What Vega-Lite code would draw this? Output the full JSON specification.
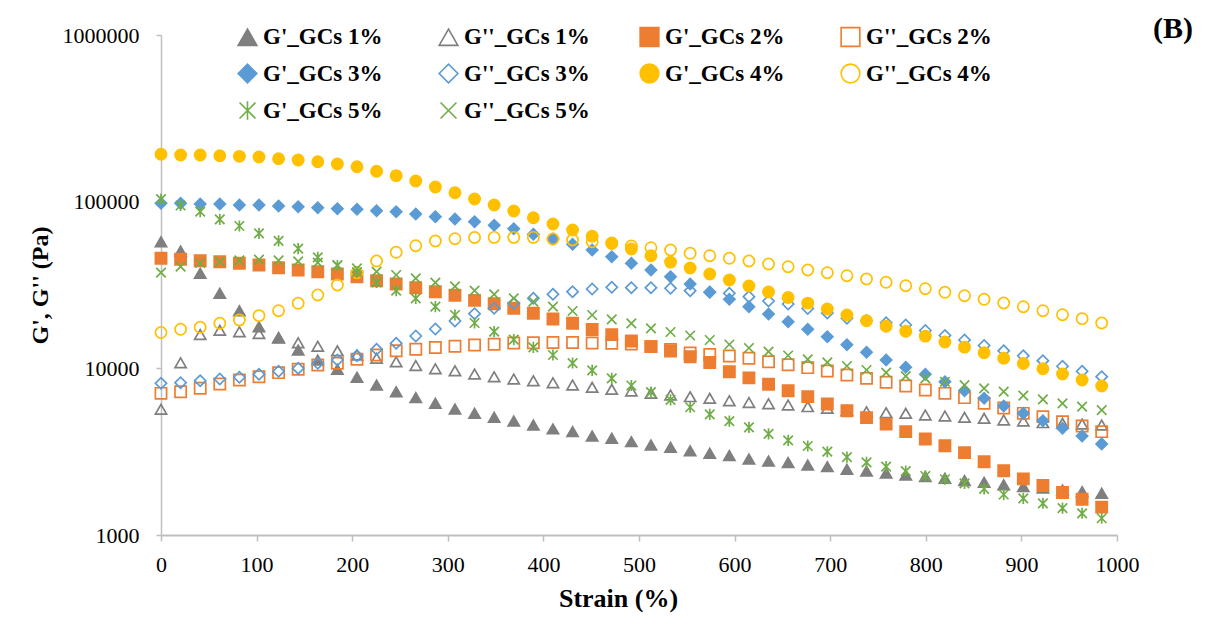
{
"$schema": "https://vega.github.io/schema/vega-lite/v6.json",
"width": 956,
"height": 500,
"autosize": {"type": "none"},
"padding": {"left": 161, "top": 35, "right": 96, "bottom": 104},
"background": "white",
"config": {
  "view": {"stroke": null},
  "font": "Liberation Serif",
  "legend": {"labelFont": "Liberation Serif", "labelFontSize": 23, "labelFontWeight": "bold", "labelColor": "black", "symbolSize": 350, "symbolStrokeWidth": 1.6, "columnPadding": 46, "rowPadding": 10, "gridAlign": "all", "labelLimit": 400, "labelOffset": 4, "padding": 0}
},
"title": {"text": "(B)", "orient": "top", "anchor": "end", "frame": "group", "font": "Liberation Serif", "fontSize": 30, "fontWeight": "bold", "color": "black", "dx": 76, "dy": 20, "offset": 0},
"data": {"values": [
{"s":"G'_GCs 1%","x":0,"y":57520},{"s":"G'_GCs 1%","x":20.5,"y":50580},{"s":"G'_GCs 1%","x":41,"y":37170},{"s":"G'_GCs 1%","x":61.5,"y":28190},{"s":"G'_GCs 1%","x":82,"y":22170},{"s":"G'_GCs 1%","x":102.5,"y":17770},{"s":"G'_GCs 1%","x":123,"y":15310},{"s":"G'_GCs 1%","x":143.5,"y":12880},{"s":"G'_GCs 1%","x":164,"y":11220},{"s":"G'_GCs 1%","x":184.5,"y":9870},{"s":"G'_GCs 1%","x":205,"y":8840},{"s":"G'_GCs 1%","x":225.5,"y":7940},{"s":"G'_GCs 1%","x":246,"y":7240},{"s":"G'_GCs 1%","x":266.5,"y":6670},{"s":"G'_GCs 1%","x":287,"y":6170},{"s":"G'_GCs 1%","x":307.5,"y":5700},{"s":"G'_GCs 1%","x":328,"y":5370},{"s":"G'_GCs 1%","x":348.5,"y":5080},{"s":"G'_GCs 1%","x":369,"y":4830},{"s":"G'_GCs 1%","x":389.5,"y":4570},{"s":"G'_GCs 1%","x":410,"y":4330},{"s":"G'_GCs 1%","x":430.5,"y":4170},{"s":"G'_GCs 1%","x":451,"y":3930},{"s":"G'_GCs 1%","x":471.5,"y":3800},{"s":"G'_GCs 1%","x":492,"y":3630},{"s":"G'_GCs 1%","x":512.5,"y":3470},{"s":"G'_GCs 1%","x":533,"y":3360},{"s":"G'_GCs 1%","x":553.5,"y":3200},{"s":"G'_GCs 1%","x":574,"y":3090},{"s":"G'_GCs 1%","x":594.5,"y":3000},{"s":"G'_GCs 1%","x":615,"y":2860},{"s":"G'_GCs 1%","x":635.5,"y":2780},{"s":"G'_GCs 1%","x":656,"y":2720},{"s":"G'_GCs 1%","x":676.5,"y":2630},{"s":"G'_GCs 1%","x":697,"y":2570},{"s":"G'_GCs 1%","x":717.5,"y":2480},{"s":"G'_GCs 1%","x":738,"y":2420},{"s":"G'_GCs 1%","x":758.5,"y":2350},{"s":"G'_GCs 1%","x":779,"y":2290},{"s":"G'_GCs 1%","x":799.5,"y":2240},{"s":"G'_GCs 1%","x":820,"y":2190},{"s":"G'_GCs 1%","x":840.5,"y":2120},{"s":"G'_GCs 1%","x":861,"y":2070},{"s":"G'_GCs 1%","x":881.5,"y":2000},{"s":"G'_GCs 1%","x":902,"y":1950},{"s":"G'_GCs 1%","x":922.5,"y":1910},{"s":"G'_GCs 1%","x":943,"y":1860},{"s":"G'_GCs 1%","x":963.5,"y":1820},{"s":"G'_GCs 1%","x":984,"y":1780},
{"s":"G''_GCs 1%","x":0,"y":5680},{"s":"G''_GCs 1%","x":20.5,"y":10810},{"s":"G''_GCs 1%","x":41,"y":15960},{"s":"G''_GCs 1%","x":61.5,"y":16910},{"s":"G''_GCs 1%","x":82,"y":16590},{"s":"G''_GCs 1%","x":102.5,"y":16180},{"s":"G''_GCs 1%","x":123,"y":15210},{"s":"G''_GCs 1%","x":143.5,"y":14250},{"s":"G''_GCs 1%","x":164,"y":13560},{"s":"G''_GCs 1%","x":184.5,"y":12740},{"s":"G''_GCs 1%","x":205,"y":12020},{"s":"G''_GCs 1%","x":225.5,"y":11490},{"s":"G''_GCs 1%","x":246,"y":10960},{"s":"G''_GCs 1%","x":266.5,"y":10400},{"s":"G''_GCs 1%","x":287,"y":9950},{"s":"G''_GCs 1%","x":307.5,"y":9680},{"s":"G''_GCs 1%","x":328,"y":9250},{"s":"G''_GCs 1%","x":348.5,"y":8910},{"s":"G''_GCs 1%","x":369,"y":8630},{"s":"G''_GCs 1%","x":389.5,"y":8430},{"s":"G''_GCs 1%","x":410,"y":8200},{"s":"G''_GCs 1%","x":430.5,"y":7940},{"s":"G''_GCs 1%","x":451,"y":7690},{"s":"G''_GCs 1%","x":471.5,"y":7480},{"s":"G''_GCs 1%","x":492,"y":7310},{"s":"G''_GCs 1%","x":512.5,"y":7080},{"s":"G''_GCs 1%","x":533,"y":6920},{"s":"G''_GCs 1%","x":553.5,"y":6760},{"s":"G''_GCs 1%","x":574,"y":6610},{"s":"G''_GCs 1%","x":594.5,"y":6390},{"s":"G''_GCs 1%","x":615,"y":6240},{"s":"G''_GCs 1%","x":635.5,"y":6130},{"s":"G''_GCs 1%","x":656,"y":6030},{"s":"G''_GCs 1%","x":676.5,"y":5890},{"s":"G''_GCs 1%","x":697,"y":5760},{"s":"G''_GCs 1%","x":717.5,"y":5580},{"s":"G''_GCs 1%","x":738,"y":5490},{"s":"G''_GCs 1%","x":758.5,"y":5420},{"s":"G''_GCs 1%","x":779,"y":5370},{"s":"G''_GCs 1%","x":799.5,"y":5250},{"s":"G''_GCs 1%","x":820,"y":5180},{"s":"G''_GCs 1%","x":840.5,"y":5080},{"s":"G''_GCs 1%","x":861,"y":5010},{"s":"G''_GCs 1%","x":881.5,"y":4900},{"s":"G''_GCs 1%","x":902,"y":4830},{"s":"G''_GCs 1%","x":922.5,"y":4720},{"s":"G''_GCs 1%","x":943,"y":4680},{"s":"G''_GCs 1%","x":963.5,"y":4630},{"s":"G''_GCs 1%","x":984,"y":4570},
{"s":"G'_GCs 2%","x":0,"y":45730},{"s":"G'_GCs 2%","x":20.5,"y":45100},{"s":"G'_GCs 2%","x":41,"y":44240},{"s":"G'_GCs 2%","x":61.5,"y":43630},{"s":"G'_GCs 2%","x":82,"y":42680},{"s":"G'_GCs 2%","x":102.5,"y":41690},{"s":"G'_GCs 2%","x":123,"y":40160},{"s":"G'_GCs 2%","x":143.5,"y":38900},{"s":"G'_GCs 2%","x":164,"y":37990},{"s":"G'_GCs 2%","x":184.5,"y":36810},{"s":"G'_GCs 2%","x":205,"y":35470},{"s":"G'_GCs 2%","x":225.5,"y":33560},{"s":"G'_GCs 2%","x":246,"y":32060},{"s":"G'_GCs 2%","x":266.5,"y":30460},{"s":"G'_GCs 2%","x":287,"y":28830},{"s":"G'_GCs 2%","x":307.5,"y":27430},{"s":"G'_GCs 2%","x":328,"y":25590},{"s":"G'_GCs 2%","x":348.5,"y":24390},{"s":"G'_GCs 2%","x":369,"y":22920},{"s":"G'_GCs 2%","x":389.5,"y":21390},{"s":"G'_GCs 2%","x":410,"y":19770},{"s":"G'_GCs 2%","x":430.5,"y":18630},{"s":"G'_GCs 2%","x":451,"y":17100},{"s":"G'_GCs 2%","x":471.5,"y":15920},{"s":"G'_GCs 2%","x":492,"y":14590},{"s":"G'_GCs 2%","x":512.5,"y":13490},{"s":"G'_GCs 2%","x":533,"y":12710},{"s":"G'_GCs 2%","x":553.5,"y":11740},{"s":"G'_GCs 2%","x":574,"y":10840},{"s":"G'_GCs 2%","x":594.5,"y":9540},{"s":"G'_GCs 2%","x":615,"y":8770},{"s":"G'_GCs 2%","x":635.5,"y":8030},{"s":"G'_GCs 2%","x":656,"y":7340},{"s":"G'_GCs 2%","x":676.5,"y":6760},{"s":"G'_GCs 2%","x":697,"y":6110},{"s":"G'_GCs 2%","x":717.5,"y":5570},{"s":"G'_GCs 2%","x":738,"y":5060},{"s":"G'_GCs 2%","x":758.5,"y":4630},{"s":"G'_GCs 2%","x":779,"y":4170},{"s":"G'_GCs 2%","x":799.5,"y":3770},{"s":"G'_GCs 2%","x":820,"y":3430},{"s":"G'_GCs 2%","x":840.5,"y":3120},{"s":"G'_GCs 2%","x":861,"y":2750},{"s":"G'_GCs 2%","x":881.5,"y":2430},{"s":"G'_GCs 2%","x":902,"y":2170},{"s":"G'_GCs 2%","x":922.5,"y":1980},{"s":"G'_GCs 2%","x":943,"y":1800},{"s":"G'_GCs 2%","x":963.5,"y":1640},{"s":"G'_GCs 2%","x":984,"y":1470},
{"s":"G''_GCs 2%","x":0,"y":7080},{"s":"G''_GCs 2%","x":20.5,"y":7240},{"s":"G''_GCs 2%","x":41,"y":7590},{"s":"G''_GCs 2%","x":61.5,"y":8050},{"s":"G''_GCs 2%","x":82,"y":8510},{"s":"G''_GCs 2%","x":102.5,"y":8910},{"s":"G''_GCs 2%","x":123,"y":9420},{"s":"G''_GCs 2%","x":143.5,"y":9870},{"s":"G''_GCs 2%","x":164,"y":10470},{"s":"G''_GCs 2%","x":184.5,"y":10720},{"s":"G''_GCs 2%","x":205,"y":11330},{"s":"G''_GCs 2%","x":225.5,"y":12020},{"s":"G''_GCs 2%","x":246,"y":12760},{"s":"G''_GCs 2%","x":266.5,"y":13010},{"s":"G''_GCs 2%","x":287,"y":13340},{"s":"G''_GCs 2%","x":307.5,"y":13560},{"s":"G''_GCs 2%","x":328,"y":13800},{"s":"G''_GCs 2%","x":348.5,"y":13950},{"s":"G''_GCs 2%","x":369,"y":14190},{"s":"G''_GCs 2%","x":389.5,"y":14250},{"s":"G''_GCs 2%","x":410,"y":14290},{"s":"G''_GCs 2%","x":430.5,"y":14290},{"s":"G''_GCs 2%","x":451,"y":14190},{"s":"G''_GCs 2%","x":471.5,"y":14130},{"s":"G''_GCs 2%","x":492,"y":14000},{"s":"G''_GCs 2%","x":512.5,"y":13490},{"s":"G''_GCs 2%","x":533,"y":12970},{"s":"G''_GCs 2%","x":553.5,"y":12360},{"s":"G''_GCs 2%","x":574,"y":12110},{"s":"G''_GCs 2%","x":594.5,"y":11860},{"s":"G''_GCs 2%","x":615,"y":11490},{"s":"G''_GCs 2%","x":635.5,"y":10960},{"s":"G''_GCs 2%","x":656,"y":10510},{"s":"G''_GCs 2%","x":676.5,"y":10090},{"s":"G''_GCs 2%","x":697,"y":9640},{"s":"G''_GCs 2%","x":717.5,"y":9120},{"s":"G''_GCs 2%","x":738,"y":8710},{"s":"G''_GCs 2%","x":758.5,"y":8250},{"s":"G''_GCs 2%","x":779,"y":7830},{"s":"G''_GCs 2%","x":799.5,"y":7410},{"s":"G''_GCs 2%","x":820,"y":7080},{"s":"G''_GCs 2%","x":840.5,"y":6670},{"s":"G''_GCs 2%","x":861,"y":6170},{"s":"G''_GCs 2%","x":881.5,"y":5780},{"s":"G''_GCs 2%","x":902,"y":5370},{"s":"G''_GCs 2%","x":922.5,"y":5130},{"s":"G''_GCs 2%","x":943,"y":4780},{"s":"G''_GCs 2%","x":963.5,"y":4510},{"s":"G''_GCs 2%","x":984,"y":4170},
{"s":"G'_GCs 3%","x":0,"y":97800},{"s":"G'_GCs 3%","x":20.5,"y":97800},{"s":"G'_GCs 3%","x":41,"y":96800},{"s":"G'_GCs 3%","x":61.5,"y":96800},{"s":"G'_GCs 3%","x":82,"y":95500},{"s":"G'_GCs 3%","x":102.5,"y":95500},{"s":"G'_GCs 3%","x":123,"y":94200},{"s":"G'_GCs 3%","x":143.5,"y":93300},{"s":"G'_GCs 3%","x":164,"y":92000},{"s":"G'_GCs 3%","x":184.5,"y":90750},{"s":"G'_GCs 3%","x":205,"y":90000},{"s":"G'_GCs 3%","x":225.5,"y":88270},{"s":"G'_GCs 3%","x":246,"y":87060},{"s":"G'_GCs 3%","x":266.5,"y":84330},{"s":"G'_GCs 3%","x":287,"y":81240},{"s":"G'_GCs 3%","x":307.5,"y":78700},{"s":"G'_GCs 3%","x":328,"y":75820},{"s":"G'_GCs 3%","x":348.5,"y":72140},{"s":"G'_GCs 3%","x":369,"y":68830},{"s":"G'_GCs 3%","x":389.5,"y":63720},{"s":"G'_GCs 3%","x":410,"y":59700},{"s":"G'_GCs 3%","x":430.5,"y":55500},{"s":"G'_GCs 3%","x":451,"y":51300},{"s":"G'_GCs 3%","x":471.5,"y":46740},{"s":"G'_GCs 3%","x":492,"y":42680},{"s":"G'_GCs 3%","x":512.5,"y":38900},{"s":"G'_GCs 3%","x":533,"y":35470},{"s":"G'_GCs 3%","x":553.5,"y":32060},{"s":"G'_GCs 3%","x":574,"y":28590},{"s":"G'_GCs 3%","x":594.5,"y":25950},{"s":"G'_GCs 3%","x":615,"y":23430},{"s":"G'_GCs 3%","x":635.5,"y":21180},{"s":"G'_GCs 3%","x":656,"y":19020},{"s":"G'_GCs 3%","x":676.5,"y":17150},{"s":"G'_GCs 3%","x":697,"y":15480},{"s":"G'_GCs 3%","x":717.5,"y":13860},{"s":"G'_GCs 3%","x":738,"y":12480},{"s":"G'_GCs 3%","x":758.5,"y":11220},{"s":"G'_GCs 3%","x":779,"y":10140},{"s":"G'_GCs 3%","x":799.5,"y":9210},{"s":"G'_GCs 3%","x":820,"y":8310},{"s":"G'_GCs 3%","x":840.5,"y":7340},{"s":"G'_GCs 3%","x":861,"y":6610},{"s":"G'_GCs 3%","x":881.5,"y":5940},{"s":"G'_GCs 3%","x":902,"y":5370},{"s":"G'_GCs 3%","x":922.5,"y":4850},{"s":"G'_GCs 3%","x":943,"y":4370},{"s":"G'_GCs 3%","x":963.5,"y":3930},{"s":"G'_GCs 3%","x":984,"y":3520},
{"s":"G''_GCs 3%","x":0,"y":8130},{"s":"G''_GCs 3%","x":20.5,"y":8200},{"s":"G''_GCs 3%","x":41,"y":8430},{"s":"G''_GCs 3%","x":61.5,"y":8630},{"s":"G''_GCs 3%","x":82,"y":8840},{"s":"G''_GCs 3%","x":102.5,"y":9210},{"s":"G''_GCs 3%","x":123,"y":9600},{"s":"G''_GCs 3%","x":143.5,"y":10000},{"s":"G''_GCs 3%","x":164,"y":10720},{"s":"G''_GCs 3%","x":184.5,"y":11220},{"s":"G''_GCs 3%","x":205,"y":11910},{"s":"G''_GCs 3%","x":225.5,"y":13010},{"s":"G''_GCs 3%","x":246,"y":14130},{"s":"G''_GCs 3%","x":266.5,"y":15630},{"s":"G''_GCs 3%","x":287,"y":17220},{"s":"G''_GCs 3%","x":307.5,"y":19230},{"s":"G''_GCs 3%","x":328,"y":21270},{"s":"G''_GCs 3%","x":348.5,"y":22920},{"s":"G''_GCs 3%","x":369,"y":24560},{"s":"G''_GCs 3%","x":389.5,"y":26320},{"s":"G''_GCs 3%","x":410,"y":27810},{"s":"G''_GCs 3%","x":430.5,"y":28830},{"s":"G''_GCs 3%","x":451,"y":29920},{"s":"G''_GCs 3%","x":471.5,"y":30630},{"s":"G''_GCs 3%","x":492,"y":30460},{"s":"G''_GCs 3%","x":512.5,"y":30460},{"s":"G''_GCs 3%","x":533,"y":30210},{"s":"G''_GCs 3%","x":553.5,"y":29230},{"s":"G''_GCs 3%","x":574,"y":28710},{"s":"G''_GCs 3%","x":594.5,"y":28190},{"s":"G''_GCs 3%","x":615,"y":26900},{"s":"G''_GCs 3%","x":635.5,"y":25350},{"s":"G''_GCs 3%","x":656,"y":24320},{"s":"G''_GCs 3%","x":676.5,"y":22860},{"s":"G''_GCs 3%","x":697,"y":21480},{"s":"G''_GCs 3%","x":717.5,"y":19960},{"s":"G''_GCs 3%","x":738,"y":19360},{"s":"G''_GCs 3%","x":758.5,"y":18760},{"s":"G''_GCs 3%","x":779,"y":18200},{"s":"G''_GCs 3%","x":799.5,"y":16870},{"s":"G''_GCs 3%","x":820,"y":15740},{"s":"G''_GCs 3%","x":840.5,"y":14790},{"s":"G''_GCs 3%","x":861,"y":13710},{"s":"G''_GCs 3%","x":881.5,"y":12740},{"s":"G''_GCs 3%","x":902,"y":11890},{"s":"G''_GCs 3%","x":922.5,"y":11110},{"s":"G''_GCs 3%","x":943,"y":10290},{"s":"G''_GCs 3%","x":963.5,"y":9600},{"s":"G''_GCs 3%","x":984,"y":8910},
{"s":"G'_GCs 4%","x":0,"y":192400},{"s":"G'_GCs 4%","x":20.5,"y":190500},{"s":"G'_GCs 4%","x":41,"y":190500},{"s":"G'_GCs 4%","x":61.5,"y":188700},{"s":"G'_GCs 4%","x":82,"y":187100},{"s":"G'_GCs 4%","x":102.5,"y":185400},{"s":"G'_GCs 4%","x":123,"y":181100},{"s":"G'_GCs 4%","x":143.5,"y":177800},{"s":"G'_GCs 4%","x":164,"y":173700},{"s":"G'_GCs 4%","x":184.5,"y":168300},{"s":"G'_GCs 4%","x":205,"y":162100},{"s":"G'_GCs 4%","x":225.5,"y":152100},{"s":"G'_GCs 4%","x":246,"y":143200},{"s":"G'_GCs 4%","x":266.5,"y":133000},{"s":"G'_GCs 4%","x":287,"y":122500},{"s":"G'_GCs 4%","x":307.5,"y":113200},{"s":"G'_GCs 4%","x":328,"y":103700},{"s":"G'_GCs 4%","x":348.5,"y":95500},{"s":"G'_GCs 4%","x":369,"y":87900},{"s":"G'_GCs 4%","x":389.5,"y":80100},{"s":"G'_GCs 4%","x":410,"y":73500},{"s":"G'_GCs 4%","x":430.5,"y":67600},{"s":"G'_GCs 4%","x":451,"y":62000},{"s":"G'_GCs 4%","x":471.5,"y":56500},{"s":"G'_GCs 4%","x":492,"y":52000},{"s":"G'_GCs 4%","x":512.5,"y":47400},{"s":"G'_GCs 4%","x":533,"y":43400},{"s":"G'_GCs 4%","x":553.5,"y":40000},{"s":"G'_GCs 4%","x":574,"y":36800},{"s":"G'_GCs 4%","x":594.5,"y":33900},{"s":"G'_GCs 4%","x":615,"y":31200},{"s":"G'_GCs 4%","x":635.5,"y":28700},{"s":"G'_GCs 4%","x":656,"y":26600},{"s":"G'_GCs 4%","x":676.5,"y":24600},{"s":"G'_GCs 4%","x":697,"y":22700},{"s":"G'_GCs 4%","x":717.5,"y":20900},{"s":"G'_GCs 4%","x":738,"y":19300},{"s":"G'_GCs 4%","x":758.5,"y":17900},{"s":"G'_GCs 4%","x":779,"y":16700},{"s":"G'_GCs 4%","x":799.5,"y":15600},{"s":"G'_GCs 4%","x":820,"y":14400},{"s":"G'_GCs 4%","x":840.5,"y":13400},{"s":"G'_GCs 4%","x":861,"y":12400},{"s":"G'_GCs 4%","x":881.5,"y":11500},{"s":"G'_GCs 4%","x":902,"y":10700},{"s":"G'_GCs 4%","x":922.5,"y":9950},{"s":"G'_GCs 4%","x":943,"y":9250},{"s":"G'_GCs 4%","x":963.5,"y":8510},{"s":"G'_GCs 4%","x":984,"y":7830},
{"s":"G''_GCs 4%","x":0,"y":16400},{"s":"G''_GCs 4%","x":20.5,"y":17150},{"s":"G''_GCs 4%","x":41,"y":17630},{"s":"G''_GCs 4%","x":61.5,"y":18630},{"s":"G''_GCs 4%","x":82,"y":19500},{"s":"G''_GCs 4%","x":102.5,"y":20700},{"s":"G''_GCs 4%","x":123,"y":22170},{"s":"G''_GCs 4%","x":143.5,"y":24560},{"s":"G''_GCs 4%","x":164,"y":27540},{"s":"G''_GCs 4%","x":184.5,"y":31620},{"s":"G''_GCs 4%","x":205,"y":37480},{"s":"G''_GCs 4%","x":225.5,"y":44060},{"s":"G''_GCs 4%","x":246,"y":49690},{"s":"G''_GCs 4%","x":266.5,"y":54430},{"s":"G''_GCs 4%","x":287,"y":58080},{"s":"G''_GCs 4%","x":307.5,"y":59960},{"s":"G''_GCs 4%","x":328,"y":60950},{"s":"G''_GCs 4%","x":348.5,"y":61100},{"s":"G''_GCs 4%","x":369,"y":61100},{"s":"G''_GCs 4%","x":389.5,"y":61100},{"s":"G''_GCs 4%","x":410,"y":59700},{"s":"G''_GCs 4%","x":430.5,"y":58900},{"s":"G''_GCs 4%","x":451,"y":57500},{"s":"G''_GCs 4%","x":471.5,"y":56100},{"s":"G''_GCs 4%","x":492,"y":54200},{"s":"G''_GCs 4%","x":512.5,"y":52940},{"s":"G''_GCs 4%","x":533,"y":51300},{"s":"G''_GCs 4%","x":553.5,"y":49000},{"s":"G''_GCs 4%","x":574,"y":47400},{"s":"G''_GCs 4%","x":594.5,"y":45730},{"s":"G''_GCs 4%","x":615,"y":44060},{"s":"G''_GCs 4%","x":635.5,"y":42270},{"s":"G''_GCs 4%","x":656,"y":40720},{"s":"G''_GCs 4%","x":676.5,"y":38900},{"s":"G''_GCs 4%","x":697,"y":37480},{"s":"G''_GCs 4%","x":717.5,"y":35960},{"s":"G''_GCs 4%","x":738,"y":34360},{"s":"G''_GCs 4%","x":758.5,"y":32820},{"s":"G''_GCs 4%","x":779,"y":31320},{"s":"G''_GCs 4%","x":799.5,"y":30050},{"s":"G''_GCs 4%","x":820,"y":28590},{"s":"G''_GCs 4%","x":840.5,"y":27280},{"s":"G''_GCs 4%","x":861,"y":25950},{"s":"G''_GCs 4%","x":881.5,"y":24660},{"s":"G''_GCs 4%","x":902,"y":23430},{"s":"G''_GCs 4%","x":922.5,"y":22170},{"s":"G''_GCs 4%","x":943,"y":20980},{"s":"G''_GCs 4%","x":963.5,"y":19860},{"s":"G''_GCs 4%","x":984,"y":18710},
{"s":"G'_GCs 5%","x":0,"y":103700},{"s":"G'_GCs 5%","x":20.5,"y":94840},{"s":"G'_GCs 5%","x":41,"y":87060},{"s":"G'_GCs 5%","x":61.5,"y":78380},{"s":"G'_GCs 5%","x":82,"y":71450},{"s":"G'_GCs 5%","x":102.5,"y":64600},{"s":"G'_GCs 5%","x":123,"y":58240},{"s":"G'_GCs 5%","x":143.5,"y":52210},{"s":"G'_GCs 5%","x":164,"y":46370},{"s":"G'_GCs 5%","x":184.5,"y":41400},{"s":"G'_GCs 5%","x":205,"y":37740},{"s":"G'_GCs 5%","x":225.5,"y":32820},{"s":"G'_GCs 5%","x":246,"y":29230},{"s":"G'_GCs 5%","x":266.5,"y":26320},{"s":"G'_GCs 5%","x":287,"y":23430},{"s":"G'_GCs 5%","x":307.5,"y":20890},{"s":"G'_GCs 5%","x":328,"y":18710},{"s":"G'_GCs 5%","x":348.5,"y":16590},{"s":"G'_GCs 5%","x":369,"y":14880},{"s":"G'_GCs 5%","x":389.5,"y":13370},{"s":"G'_GCs 5%","x":410,"y":12020},{"s":"G'_GCs 5%","x":430.5,"y":10760},{"s":"G'_GCs 5%","x":451,"y":9730},{"s":"G'_GCs 5%","x":471.5,"y":8710},{"s":"G'_GCs 5%","x":492,"y":7890},{"s":"G'_GCs 5%","x":512.5,"y":7190},{"s":"G'_GCs 5%","x":533,"y":6460},{"s":"G'_GCs 5%","x":553.5,"y":5840},{"s":"G'_GCs 5%","x":574,"y":5300},{"s":"G'_GCs 5%","x":594.5,"y":4820},{"s":"G'_GCs 5%","x":615,"y":4420},{"s":"G'_GCs 5%","x":635.5,"y":4040},{"s":"G'_GCs 5%","x":656,"y":3700},{"s":"G'_GCs 5%","x":676.5,"y":3420},{"s":"G'_GCs 5%","x":697,"y":3160},{"s":"G'_GCs 5%","x":717.5,"y":2930},{"s":"G'_GCs 5%","x":738,"y":2730},{"s":"G'_GCs 5%","x":758.5,"y":2570},{"s":"G'_GCs 5%","x":779,"y":2420},{"s":"G'_GCs 5%","x":799.5,"y":2260},{"s":"G'_GCs 5%","x":820,"y":2160},{"s":"G'_GCs 5%","x":840.5,"y":2040},{"s":"G'_GCs 5%","x":861,"y":1890},{"s":"G'_GCs 5%","x":881.5,"y":1750},{"s":"G'_GCs 5%","x":902,"y":1660},{"s":"G'_GCs 5%","x":922.5,"y":1550},{"s":"G'_GCs 5%","x":943,"y":1450},{"s":"G'_GCs 5%","x":963.5,"y":1350},{"s":"G'_GCs 5%","x":984,"y":1260},
{"s":"G''_GCs 5%","x":0,"y":37480},{"s":"G''_GCs 5%","x":20.5,"y":40720},{"s":"G''_GCs 5%","x":41,"y":42850},{"s":"G''_GCs 5%","x":61.5,"y":43630},{"s":"G''_GCs 5%","x":82,"y":44480},{"s":"G''_GCs 5%","x":102.5,"y":44850},{"s":"G''_GCs 5%","x":123,"y":44480},{"s":"G''_GCs 5%","x":143.5,"y":43870},{"s":"G''_GCs 5%","x":164,"y":43030},{"s":"G''_GCs 5%","x":184.5,"y":41690},{"s":"G''_GCs 5%","x":205,"y":39830},{"s":"G''_GCs 5%","x":225.5,"y":37990},{"s":"G''_GCs 5%","x":246,"y":36310},{"s":"G''_GCs 5%","x":266.5,"y":34690},{"s":"G''_GCs 5%","x":287,"y":32640},{"s":"G''_GCs 5%","x":307.5,"y":31060},{"s":"G''_GCs 5%","x":328,"y":29230},{"s":"G''_GCs 5%","x":348.5,"y":27810},{"s":"G''_GCs 5%","x":369,"y":26320},{"s":"G''_GCs 5%","x":389.5,"y":25110},{"s":"G''_GCs 5%","x":410,"y":23430},{"s":"G''_GCs 5%","x":430.5,"y":22080},{"s":"G''_GCs 5%","x":451,"y":20890},{"s":"G''_GCs 5%","x":471.5,"y":19690},{"s":"G''_GCs 5%","x":492,"y":18630},{"s":"G''_GCs 5%","x":512.5,"y":17390},{"s":"G''_GCs 5%","x":533,"y":16520},{"s":"G''_GCs 5%","x":553.5,"y":15740},{"s":"G''_GCs 5%","x":574,"y":14790},{"s":"G''_GCs 5%","x":594.5,"y":13900},{"s":"G''_GCs 5%","x":615,"y":13240},{"s":"G''_GCs 5%","x":635.5,"y":12580},{"s":"G''_GCs 5%","x":656,"y":11940},{"s":"G''_GCs 5%","x":676.5,"y":11330},{"s":"G''_GCs 5%","x":697,"y":10870},{"s":"G''_GCs 5%","x":717.5,"y":10330},{"s":"G''_GCs 5%","x":738,"y":9770},{"s":"G''_GCs 5%","x":758.5,"y":9420},{"s":"G''_GCs 5%","x":779,"y":8990},{"s":"G''_GCs 5%","x":799.5,"y":8710},{"s":"G''_GCs 5%","x":820,"y":8310},{"s":"G''_GCs 5%","x":840.5,"y":7940},{"s":"G''_GCs 5%","x":861,"y":7590},{"s":"G''_GCs 5%","x":881.5,"y":7240},{"s":"G''_GCs 5%","x":902,"y":6850},{"s":"G''_GCs 5%","x":922.5,"y":6520},{"s":"G''_GCs 5%","x":943,"y":6170},{"s":"G''_GCs 5%","x":963.5,"y":5890},{"s":"G''_GCs 5%","x":984,"y":5620}
]},
"mark": {"type": "point", "size": 125, "strokeWidth": 1.7, "opacity": 1},
"encoding": {
  "x": {"field": "x", "type": "quantitative", "scale": {"domain": [0, 1000], "nice": false},
    "axis": {"values": [0,100,200,300,400,500,600,700,800,900,1000], "format": "d", "title": "Strain (%)", "titleFont": "Liberation Serif", "titleFontSize": 26, "titleFontWeight": "bold", "titleColor": "black", "titlePadding": 10, "titleX": 457, "labelFont": "Liberation Serif", "labelFontSize": 22, "labelColor": "black", "labelPadding": 13, "labelFlush": false, "labelOverlap": false, "tickSize": 6, "tickColor": "#BFBFBF", "tickWidth": 1.5, "domainColor": "#BFBFBF", "domainWidth": 2, "grid": false}},
  "y": {"field": "y", "type": "quantitative", "scale": {"type": "log", "domain": [1000, 1000000], "nice": false},
    "axis": {"values": [1000,10000,100000,1000000], "format": "d", "title": "G', G'' (Pa)", "titleFont": "Liberation Serif", "titleFontSize": 24, "titleFontWeight": "bold", "titleColor": "black", "titlePadding": 10, "labelFont": "Liberation Serif", "labelFontSize": 22, "labelColor": "black", "labelPadding": 17, "labelOverlap": false, "tickSize": 5, "tickColor": "#BFBFBF", "tickWidth": 1.5, "domainColor": "#BFBFBF", "domainWidth": 1.5, "grid": false}},
  "shape": {"field": "s", "type": "nominal",
    "scale": {"domain": ["G'_GCs 1%","G''_GCs 1%","G'_GCs 2%","G''_GCs 2%","G'_GCs 3%","G''_GCs 3%","G'_GCs 4%","G''_GCs 4%","G'_GCs 5%","G''_GCs 5%"],
      "range": ["triangle-up","triangle-up","square","square","diamond","diamond","circle","circle","M-0.85,-0.85L0.85,0.85M-0.85,0.85L0.85,-0.85M0,-1L0,1","M-0.85,-0.85L0.85,0.85M-0.85,0.85L0.85,-0.85"]},
    "legend": {"orient": "none", "legendX": 75, "legendY": -10, "columns": 4, "direction": "horizontal", "title": null, "labelFont": "Liberation Serif"}},
  "stroke": {"field": "s", "type": "nominal",
    "scale": {"domain": ["G'_GCs 1%","G''_GCs 1%","G'_GCs 2%","G''_GCs 2%","G'_GCs 3%","G''_GCs 3%","G'_GCs 4%","G''_GCs 4%","G'_GCs 5%","G''_GCs 5%"],
      "range": ["#7F7F7F","#7F7F7F","#ED7D31","#ED7D31","#5B9BD5","#5B9BD5","#FFC000","#FFC000","#70AD47","#70AD47"]},
    "legend": {"orient": "none", "legendX": 75, "legendY": -10, "columns": 4, "direction": "horizontal", "title": null, "labelFont": "Liberation Serif"}},
  "fill": {"field": "s", "type": "nominal",
    "scale": {"domain": ["G'_GCs 1%","G''_GCs 1%","G'_GCs 2%","G''_GCs 2%","G'_GCs 3%","G''_GCs 3%","G'_GCs 4%","G''_GCs 4%","G'_GCs 5%","G''_GCs 5%"],
      "range": ["#7F7F7F","transparent","#ED7D31","transparent","#5B9BD5","transparent","#FFC000","transparent","transparent","transparent"]},
    "legend": {"orient": "none", "legendX": 75, "legendY": -10, "columns": 4, "direction": "horizontal", "title": null, "labelFont": "Liberation Serif"}}
}
}
